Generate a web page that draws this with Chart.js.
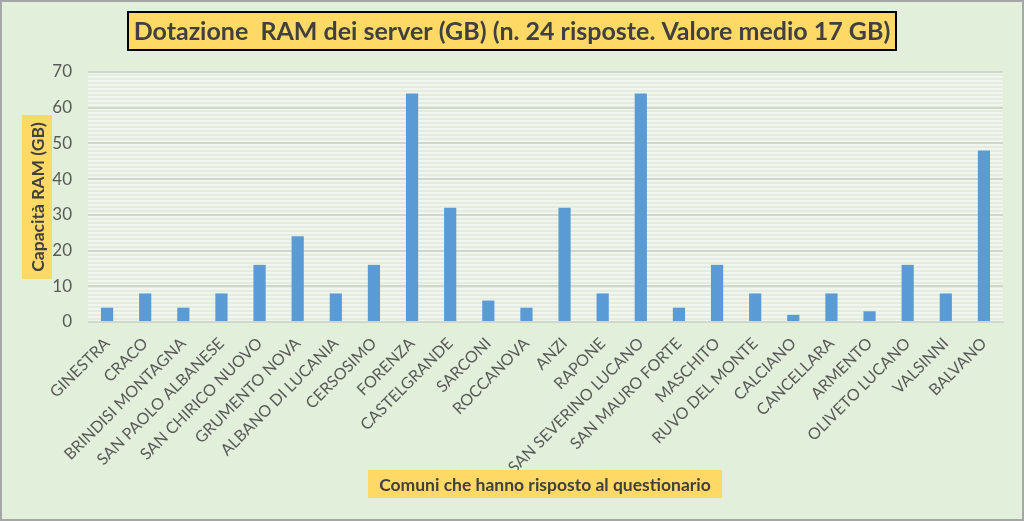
<!DOCTYPE html>
<html>
<head>
<meta charset="utf-8">
<script src="https://cdn.jsdelivr.net/npm/chart.js@4"></script>
<style>
    html, body { margin: 0; padding: 0; background: #e2efda; }
    #wrap { width: 1024px; height: 521px; }
</style>
</head>
<body>
<div id="wrap"><canvas id="grafica" width="1024" height="521"></canvas></div>
<script>
const comuni = [
    'GINESTRA', 'CRACO', 'BRINDISI MONTAGNA', 'SAN PAOLO ALBANESE', 'SAN CHIRICO NUOVO',
    'GRUMENTO NOVA', 'ALBANO DI LUCANIA', 'CERSOSIMO', 'FORENZA', 'CASTELGRANDE',
    'SARCONI', 'ROCCANOVA', 'ANZI', 'RAPONE', 'SAN SEVERINO LUCANO', 'SAN MAURO FORTE',
    'MASCHITO', 'RUVO DEL MONTE', 'CALCIANO', 'CANCELLARA', 'ARMENTO', 'OLIVETO LUCANO',
    'VALSINNI', 'BALVANO'
];
const ramGB = [4, 8, 4, 8, 16, 24, 8, 16, 64, 32, 6, 4, 32, 8, 64, 4, 16, 8, 2, 8, 3, 16, 8, 48];
const tickY = [0, 10, 20, 30, 40, 50, 60, 70];

const titolo = 'Dotazione  RAM dei server (GB) (n. 24 risposte. Valore medio 17 GB)';
const titoloY = 'Capacità RAM (GB)';
const titoloX = 'Comuni che hanno risposto al questionario';

const font = 'Lato, "Open Sans", sans-serif';

// sfondo, riquadri gialli e bordi
const decorazioni = {
    id: 'decorazioni',
    beforeDraw(chart) {
        const ctx = chart.ctx;
        const a = chart.chartArea;
        ctx.save();
        ctx.fillStyle = '#e2efda';
        ctx.fillRect(0, 0, chart.width, chart.height);
        // area del grafico a righe
        const p = document.createElement('canvas');
        p.width = 4; p.height = 4;
        const pc = p.getContext('2d');
        pc.fillStyle = '#f0f5ed';
        pc.fillRect(0, 0, 4, 2);
        pc.fillStyle = '#e4ecdf';
        pc.fillRect(0, 2, 4, 2);
        ctx.fillStyle = ctx.createPattern(p, 'repeat');
        ctx.fillRect(a.left, a.top, a.right - a.left, a.bottom - a.top);
        ctx.restore();
    },
    afterDraw(chart) {
        const ctx = chart.ctx;
        ctx.save();
        // bordo esterno
        ctx.strokeStyle = '#a6a6a6';
        ctx.lineWidth = 2;
        ctx.strokeRect(1, 1, chart.width - 2, chart.height - 2);

        // titolo
        ctx.fillStyle = '#ffd966';
        ctx.fillRect(128, 12, 768, 38);
        ctx.strokeStyle = '#000000';
        ctx.lineWidth = 2;
        ctx.strokeRect(128, 12, 768, 38);
        ctx.fillStyle = '#404040';
        ctx.font = 'bold 25px ' + font;
        ctx.textAlign = 'center';
        ctx.textBaseline = 'middle';
        ctx.fillText(titolo, 512, 32);

        // titolo asse x
        ctx.fillStyle = '#ffd966';
        ctx.fillRect(368, 470, 354, 28);
        ctx.fillStyle = '#404040';
        ctx.font = 'bold 17.5px ' + font;
        ctx.fillText(titoloX, 545, 485);

        // titolo asse y
        ctx.translate(37, 197);
        ctx.rotate(-Math.PI / 2);
        ctx.fillStyle = '#ffd966';
        ctx.fillRect(-82, -15, 164, 30);
        ctx.fillStyle = '#404040';
        ctx.font = 'bold 17.5px ' + font;
        ctx.fillText(titoloY, 0, 1);
        ctx.restore();
    }
};

new Chart(document.getElementById('grafica'), {
    type: 'bar',
    data: {
        labels: comuni,
        datasets: [{
            label: titoloY,
            data: ramGB,
            backgroundColor: '#5b9bd5',
            categoryPercentage: 1,
            barPercentage: 0.32
        }]
    },
    options: {
        responsive: false,
        animation: false,
        layout: { padding: { top: 72, right: 21, left: 0, bottom: 0 } },
        plugins: {
            legend: { display: false },
            tooltip: { enabled: false }
        },
        scales: {
            x: {
                offset: true,
                grid: { display: false, drawTicks: false },
                border: { display: true, color: '#d0d8cc', width: 1 },
                ticks: {
                    color: '#595959',
                    font: { family: font, size: 16 },
                    minRotation: 45,
                    maxRotation: 45,
                    autoSkip: false,
                    padding: 12
                },
                afterFit(scale) { scale.height = 199; }
            },
            y: {
                min: 0,
                max: 70,
                afterBuildTicks(scale) { scale.ticks = tickY.map(v => ({ value: v })); },
                grid: { color: '#d0d8cc', lineWidth: 2, drawTicks: false },
                border: { display: false },
                ticks: {
                    color: '#595959',
                    font: { family: font, size: 17 },
                    padding: 16
                },
                afterFit(scale) { scale.width = 88; }
            }
        }
    },
    plugins: [decorazioni]
});
</script>
</body>
</html>
